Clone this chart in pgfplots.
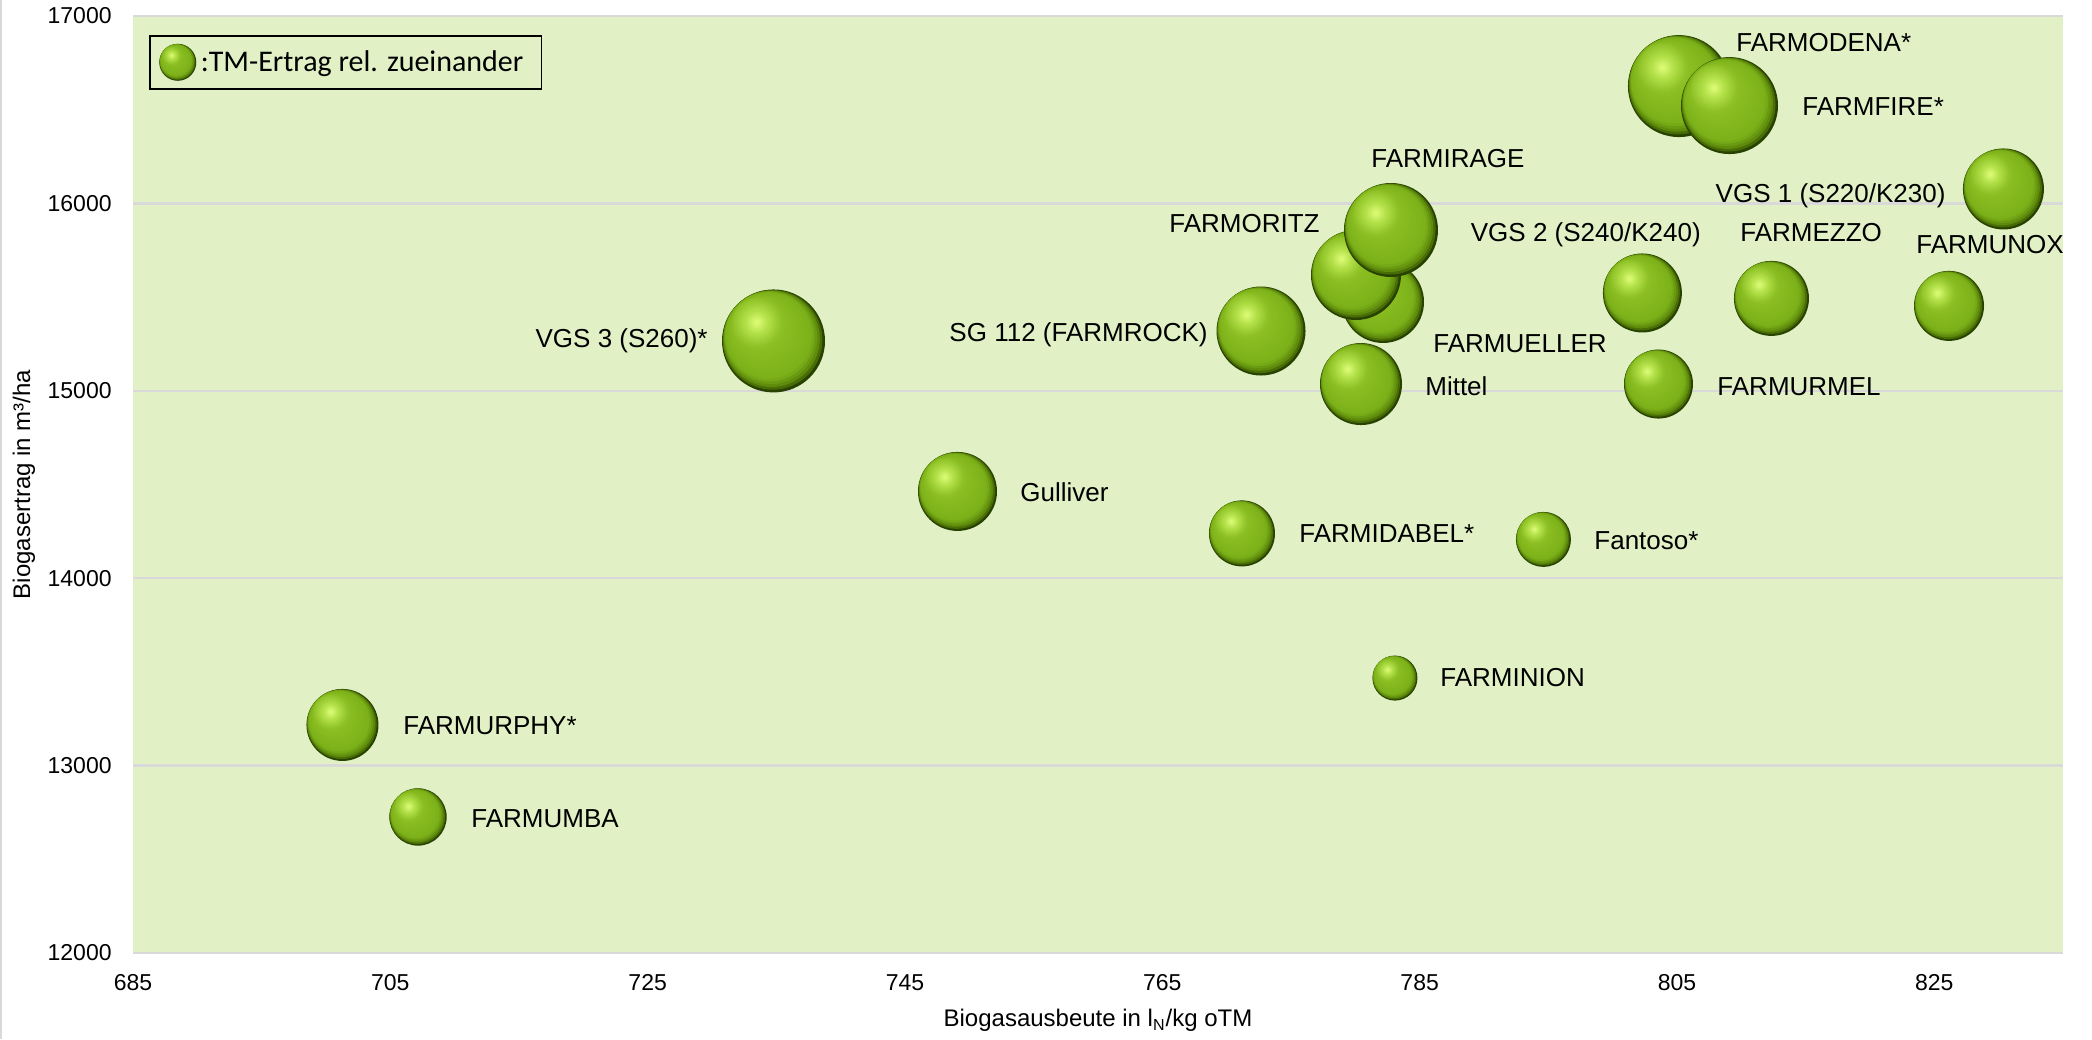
\documentclass[border=0pt]{standalone}
\usepackage{pgfplots}
\usepackage{pgfplotstable}
\pgfplotsset{compat=1.18}
\usepackage{fontspec}
\setmainfont{Liberation Sans}
\newfontfamily\calibri{Carlito}

\definecolor{bgcol}{RGB}{225,241,197}
\definecolor{gridcol}{RGB}{217,217,217}
\tikzset{lbl/.style={font=\fontsize{13}{15}\selectfont, inner sep=0pt, text height=9.3pt, text depth=0pt}}

% colour of the ball at step t (0 = rim, 1 = highlight)
\newcommand\ballinterp[8]{%
  \pgfmathsetmacro\ballS{(\ballT-#1)/(#2-#1)}%
  \pgfmathtruncatemacro\ballR{#3+(#6-#3)*\ballS}%
  \pgfmathtruncatemacro\ballG{#4+(#7-#4)*\ballS}%
  \pgfmathtruncatemacro\ballB{#5+(#8-#5)*\ballS}%
  \definecolor{ballcc}{RGB}{\ballR,\ballG,\ballB}}
\newcommand\ballcolor[1]{%
  \pgfmathsetmacro\ballT{#1}%
  \ifdim\ballT pt<0.05pt \ballinterp{0}{0.05}{40}{66}{0}{90}{132}{10}%
  \else\ifdim\ballT pt<0.15pt \ballinterp{0.05}{0.15}{90}{132}{10}{124}{177}{25}%
  \else\ifdim\ballT pt<0.5pt \ballinterp{0.15}{0.5}{124}{177}{25}{138}{190}{34}%
  \else\ifdim\ballT pt<0.8pt \ballinterp{0.5}{0.8}{138}{190}{34}{178}{224}{72}%
  \else \ballinterp{0.8}{1}{178}{224}{72}{218}{250}{115}\fi\fi\fi\fi}
% \drawball{radius in pt}{centre x in pt}{centre y in pt}
\newcommand\drawball[3]{%
  \foreach \k in {0,...,30}{%
    \begin{pgfscope}%
      \pgfmathsetmacro\bt{\k/30}%
      \ballcolor{\bt}%
      \pgfmathsetmacro\brad{#1*(1-0.95*\bt)}%
      \pgfmathsetmacro\boff{min(0.86*\bt,0.48)*#1}%
      \pgfmathsetmacro\bcx{#2-0.664*\boff}%
      \pgfmathsetmacro\bcy{#3+0.747*\boff}%
      \pgfsetfillcolor{ballcc}%
      \pgfpathcircle{\pgfpoint{\bcx pt}{\bcy pt}}{\brad pt}%
      \pgfusepath{fill}%
    \end{pgfscope}%
  }}

\pgfplotstableread{
x y r
805.15 16626 25.5
809.08 16522 24.25
830.37 16077 20.25
782.15 15474 20.5
780.05 15618 22.5
782.77 15858 23.5
802.31 15522 19.75
812.34 15493 18.75
826.14 15453 17.5
734.78 15266 25.75
772.67 15319 22.25
780.44 15036 20.5
803.56 15036 17.25
749.08 14463 19.75
771.19 14239 16.5
794.62 14207 13.75
783.08 13467 11.25
701.28 13217 18
707.15 12726 14.35
}\bubbles

\begin{document}
\begin{tikzpicture}
\path[use as bounding box] (-66.5pt,-43pt) rectangle (979.5pt,476.5pt);
\begin{axis}[
  at={(0pt,0pt)}, anchor=south west,
  width=965pt, height=468.5pt, scale only axis,
  xmin=685, xmax=835, ymin=12000, ymax=17000,
  xtick={685,705,...,825}, ytick={12000,13000,...,17000},
  scaled ticks=false,
  /pgf/number format/1000 sep={},
  /pgf/number format/assume math mode=true,
  major tick length=0pt,
  axis line style={draw=none},
  ymajorgrids, grid style={color=gridcol, line width=1.2pt},
  axis background/.style={fill=bgcol},
  ticklabel style={font=\fontsize{11.5}{13}\selectfont},
  xticklabel style={anchor=north, inner sep=0pt, yshift=-10.5pt},
  yticklabel style={anchor=east, inner sep=0pt, xshift=-10.5pt},
  xlabel={Biogasausbeute in l\textsubscript{N}/kg oTM},
  ylabel={Biogasertrag in m³/ha},
  label style={font=\fontsize{12}{14}\selectfont},
  xlabel style={at={(axis description cs:0.5,0)}, anchor=north, inner sep=0pt, yshift=-28pt},
  ylabel style={at={(axis description cs:-0.0565,0.5)}, anchor=center, inner sep=0pt},
  clip=false,
  legend style={at={(0.00829,0.97972)}, anchor=north west, draw=black, line width=0.8pt,
    fill=none, inner sep=0pt, nodes={inner sep=0pt}, font=\calibri\fontsize{15}{17}\selectfont},
  legend cell align=left,
]
\addplot[scatter, only marks, mark=text, text mark={},
  visualization depends on={\thisrow{r} \as \rr},
  scatter/@pre marker code/.code={\drawball{\rr}{0}{0}},
  scatter/@post marker code/.code={},
  legend image code/.code={%
    \pgfpathrectangle{\pgfpoint{0pt}{-13.25pt}}{\pgfpoint{25.5pt}{26.5pt}}\pgfusepath{discard}%
    \drawball{9.25}{14}{0}%
  },
] table[x=x, y=y] {\bubbles};
\addlegendentry{:TM-Ertrag rel. zueinander\hspace*{9pt}}

\node[lbl, anchor=west] at (axis cs:809.58,16861) {FARMODENA*};
\node[lbl, anchor=west] at (axis cs:814.71,16520) {FARMFIRE*};
\node[lbl, anchor=east] at (axis cs:825.90,16055) {VGS 1 (S220/K230)};
\node[lbl, anchor=west] at (axis cs:823.57,15783) {FARMUNOX};
\node[lbl, anchor=west] at (axis cs:809.89,15847) {FARMEZZO};
\node[lbl, anchor=west] at (axis cs:788.95,15847) {VGS 2 (S240/K240)};
\node[lbl, anchor=west] at (axis cs:781.21,16242) {FARMIRAGE};
\node[lbl, anchor=east] at (axis cs:777.25,15895) {FARMORITZ};
\node[lbl, anchor=west] at (axis cs:786.03,15255) {FARMUELLER};
\node[lbl, anchor=west] at (axis cs:785.41,15026) {Mittel};
\node[lbl, anchor=east] at (axis cs:768.55,15314) {SG 112 (FARMROCK)};
\node[lbl, anchor=east] at (axis cs:729.69,15282) {VGS 3 (S260)*};
\node[lbl, anchor=west] at (axis cs:808.11,15026) {FARMURMEL};
\node[lbl, anchor=west] at (axis cs:753.94,14460) {Gulliver};
\node[lbl, anchor=west] at (axis cs:775.62,14241) {FARMIDABEL*};
\node[lbl, anchor=west] at (axis cs:798.55,14204) {Fantoso*};
\node[lbl, anchor=west] at (axis cs:786.58,13473) {FARMINION};
\node[lbl, anchor=west] at (axis cs:705.98,13217) {FARMURPHY*};
\node[lbl, anchor=west] at (axis cs:711.27,12720) {FARMUMBA};
\end{axis}
\draw[gridcol, line width=1pt] (-66pt,-43pt) -- (-66pt,476.5pt);
\end{tikzpicture}
\end{document}
